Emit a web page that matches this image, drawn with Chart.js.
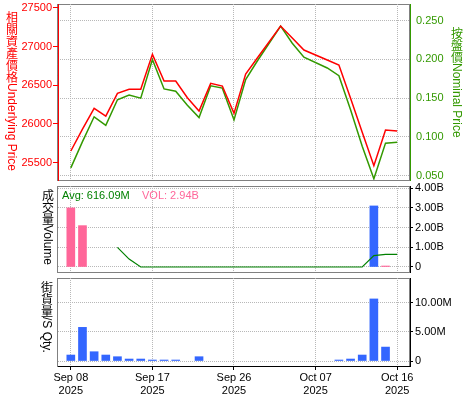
<!DOCTYPE html>
<html>
<head>
<meta charset="utf-8">
<script src="https://cdn.jsdelivr.net/npm/chart.js@4/dist/chart.umd.min.js"></script>
<style>
body{margin:0;background:#fff;}
#wrap{position:relative;width:475px;height:400px;overflow:hidden;background:#fff;}
canvas{position:absolute;left:0;}
.vt{position:absolute;width:14px;display:flex;flex-direction:column;align-items:center;z-index:2;}
.vt .cj{width:12px;font:12px/12px "Noto Sans CJK TC",sans-serif;word-break:break-all;text-align:center;}
.vt .lat{writing-mode:vertical-rl;font:12px/14px "Liberation Sans",sans-serif;white-space:nowrap;}
</style>
</head>
<body>
<div id="wrap">
<canvas id="priceChart" width="475" height="185" style="top:0"></canvas>
<canvas id="volChart" width="475" height="97" style="top:180px"></canvas>
<canvas id="qtyChart" width="475" height="125" style="top:275px"></canvas>
<div class="vt" style="left:5px;top:11px;color:#f00"><div class="cj">相關資產價格</div><div class="lat">Underlying Price</div></div>
<div class="vt" style="left:450px;top:27px;color:#339900"><div class="cj">按盤價</div><div class="lat">Nominal Price</div></div>
<div class="vt" style="left:41px;top:189px;color:#000"><div class="cj">成交量</div><div class="lat">Volume</div></div>
<div class="vt" style="left:40px;top:281px;color:#000"><div class="cj">街貨量</div><div class="lat">/S Qty.</div></div>
</div>
<script>
// trading days on the x axis
const dates = ['Sep 08','Sep 09','Sep 10','Sep 11','Sep 12','Sep 15','Sep 16','Sep 17','Sep 18','Sep 19',
  'Sep 22','Sep 23','Sep 24','Sep 25','Sep 26','Sep 29','Sep 30','Oct 01','Oct 02','Oct 03',
  'Oct 06','Oct 07','Oct 08','Oct 09','Oct 10','Oct 13','Oct 14','Oct 15','Oct 16'];
const xTickIndex = [0, 7, 14, 21, 28];
const xTickYear = '2025';

// top panel
const underlying = [25649, 25933, 26201, 26101, 26395, 26447, 26447, 26899, 26554, 26554,
  26338, 26166, 26524, 26489, 26136, 26644, 26851, null, 27265, 27110,
  26955, null, 26825, 26761, 26330, 25890, 25459, 25920, 25907];
const nominal = [0.060, 0.094, 0.126, 0.115, 0.148, 0.154, 0.150, 0.200, 0.162, 0.159,
  0.141, 0.125, 0.166, 0.163, 0.122, 0.174, 0.198, null, 0.243, 0.221,
  0.203, null, 0.189, 0.179, 0.135, 0.088, 0.046, 0.092, 0.093];
const priceTicks = [25500, 26000, 26500, 27000, 27500];
const priceTickLabels = ['25500', '26000', '26500', '27000', '27500'];
const nominalTicks = [0.05, 0.10, 0.15, 0.20, 0.25];
const nominalTickLabels = ['0.050', '0.100', '0.150', '0.200', '0.250'];

// middle panel
const volumePink = [3.0e9, 2.1e9, null, null, null, null, null, null, null, null,
  null, null, null, null, null, null, null, null, null, null,
  null, null, null, null, null, null, null, 0.05e9, null];
const volumeBlue = [null, null, null, null, null, null, null, null, null, null,
  null, null, null, null, null, null, null, null, null, null,
  null, null, null, null, null, null, 3.1e9, null, null];
const avgVolume = [null, null, null, null, 1.0e9, 0.4e9, 0, 0, 0, 0,
  0, 0, 0, 0, 0, 0, 0, 0, 0, 0,
  0, 0, 0, 0, 0, 0, 0.58e9, 0.64e9, 0.64e9];
const volTicks = [0, 1e9, 2e9, 3e9, 4e9];
const volTickLabels = ['0', '1.00B', '2.00B', '3.00B', '4.00B'];
const avgText = 'Avg: 616.09M';
const volText = 'VOL: 2.94B';

// bottom panel
const streetQty = [1.03e6, 5.8e6, 1.6e6, 1.03e6, 0.74e6, 0.34e6, 0.34e6, 0.17e6, 0.17e6, 0.17e6,
  null, 0.74e6, null, null, null, null, null, null, null, null,
  null, null, null, 0.17e6, 0.34e6, 1.03e6, 10.7e6, 2.4e6, null];
const qtyTicks = [0, 5e6, 10e6];
const qtyTickLabels = ['0', '5.00M', '10.00M'];

const RED = '#ff0000';
const GREEN = '#339900';
const GRID = '#b8b8b8';

Chart.defaults.font.family = '"Liberation Sans", sans-serif';
Chart.defaults.font.size = 11;
Chart.defaults.color = '#000';

const pts = arr => arr.map((v, i) => ({x: i, y: v}));
const setTicks = vals => s => { s.ticks = vals.map(v => ({value: v})); };
const noPad = w => s => {
  if (w) s.width = w;
  s.paddingTop = 0; s.paddingBottom = 0;
};

function xAxis(showLabels) {
  return {
    type: 'linear', min: -1.1, max: 29.1, offset: false,
    afterBuildTicks: setTicks(xTickIndex),
    afterFit: s => {
      s.height = showLabels ? 34 : 5;
      s.paddingLeft = 0; s.paddingRight = 0;
    },
    grid: {color: GRID, offset: false, drawTicks: showLabels, tickLength: 4, tickColor: '#000'},
    border: {display: showLabels, color: '#000', dash: [1, 1]},
    ticks: {
      display: showLabels, maxRotation: 0, autoSkip: false, padding: 1, color: '#000',
      callback: (v, i) => [dates[xTickIndex[i]], xTickYear]
    }
  };
}

const frame = {
  id: 'frame',
  beforeDraw(chart) {
    const a = chart.chartArea, ctx = chart.ctx;
    ctx.save();
    ctx.strokeStyle = '#000';
    ctx.lineWidth = 1;
    ctx.setLineDash([1, 1]);
    ctx.strokeRect(a.left - 0.5, a.top + 0.5, a.right - a.left, a.bottom - a.top);
    ctx.restore();
  }
};

new Chart(document.getElementById('priceChart'), {
  type: 'line',
  data: {
    datasets: [
      {data: pts(underlying), yAxisID: 'yL', borderColor: RED, borderWidth: 1.5},
      {data: pts(nominal), yAxisID: 'yR', borderColor: GREEN, borderWidth: 1.5}
    ]
  },
  options: {
    responsive: false, animation: false, devicePixelRatio: 1,
    layout: {padding: {top: 4, left: 0, right: 0, bottom: 0}},
    elements: {point: {radius: 0}, line: {tension: 0}},
    spanGaps: true,
    plugins: {legend: {display: false}, tooltip: {enabled: false}},
    scales: {
      x: xAxis(false),
      yL: {
        position: 'left', min: 25274, max: 27550,
        afterBuildTicks: setTicks(priceTicks),
        afterFit: noPad(58),
        grid: {drawOnChartArea: false, tickLength: 5, tickColor: RED},
        border: {color: RED},
        ticks: {color: RED, padding: 1, callback: (v, i) => priceTickLabels[i]}
      },
      yR: {
        position: 'right', min: 0.0444, max: 0.2716,
        afterBuildTicks: setTicks(nominalTicks),
        afterFit: noPad(65),
        grid: {color: GRID, drawTicks: false},
        border: {color: GREEN, dash: [1, 1]},
        ticks: {color: GREEN, padding: 6, callback: (v, i) => nominalTickLabels[i]}
      }
    }
  },
  plugins: [frame]
});

const statText = {
  id: 'statText',
  afterDraw(chart) {
    const ctx = chart.ctx, a = chart.chartArea;
    ctx.save();
    ctx.font = '11px "Liberation Sans", sans-serif';
    ctx.textBaseline = 'middle';
    ctx.fillStyle = '#008000';
    ctx.fillText(avgText, a.left + 4, a.top + 10);
    ctx.fillStyle = '#ff6699';
    ctx.fillText(volText, a.left + 84, a.top + 10);
    ctx.restore();
  }
};

new Chart(document.getElementById('volChart'), {
  type: 'bar',
  data: {
    datasets: [
      {type: 'line', data: pts(avgVolume), borderColor: '#008000', borderWidth: 1.2, pointRadius: 0, tension: 0},
      {data: pts(volumePink), backgroundColor: '#ff6699', barThickness: 8, grouped: false},
      {data: pts(volumeBlue), backgroundColor: '#3366ff', barThickness: 8, grouped: false}
    ]
  },
  options: {
    responsive: false, animation: false, devicePixelRatio: 1,
    layout: {padding: {top: 6, left: 58, right: 0, bottom: 0}},
    plugins: {legend: {display: false}, tooltip: {enabled: false}},
    scales: {
      x: xAxis(false),
      y: {
        position: 'right', min: -0.254e9, max: 4.112e9,
        afterBuildTicks: setTicks(volTicks),
        afterFit: noPad(65),
        grid: {color: GRID, tickLength: 3, tickColor: '#000'},
        border: {color: '#000', dash: [1, 1]},
        ticks: {color: '#000', padding: 2, callback: (v, i) => volTickLabels[i]}
      }
    }
  },
  plugins: [frame, statText]
});

new Chart(document.getElementById('qtyChart'), {
  type: 'bar',
  data: {
    datasets: [
      {data: pts(streetQty), backgroundColor: '#3366ff', barThickness: 8}
    ]
  },
  options: {
    responsive: false, animation: false, devicePixelRatio: 1,
    layout: {padding: {top: 3, left: 58, right: 0, bottom: 0}},
    plugins: {legend: {display: false}, tooltip: {enabled: false}},
    scales: {
      x: xAxis(true),
      y: {
        position: 'right', min: -0.862e6, max: 14.31e6,
        afterBuildTicks: setTicks(qtyTicks),
        afterFit: noPad(65),
        grid: {color: GRID, tickLength: 3, tickColor: '#000'},
        border: {color: '#000', dash: [1, 1]},
        ticks: {color: '#000', padding: 2, callback: (v, i) => qtyTickLabels[i]}
      }
    }
  },
  plugins: [frame]
});
</script>
</body>
</html>
